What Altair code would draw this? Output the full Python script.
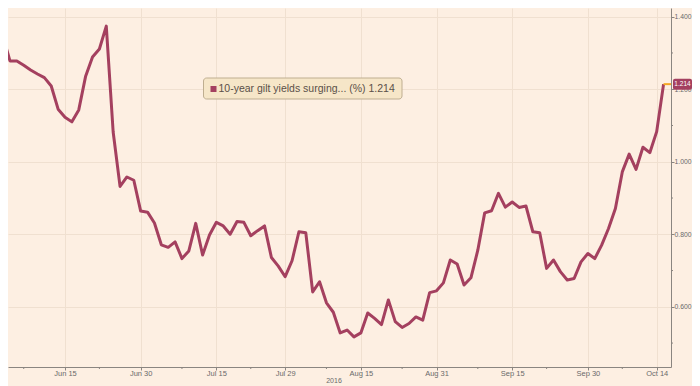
import altair as alt
import pandas as pd

# ---- data ----
values = [
    1.380, 1.345, 1.278, 1.278, 1.266, 1.253, 1.242, 1.232, 1.209, 1.145,
    1.123, 1.110, 1.143, 1.236, 1.289, 1.311, 1.374, 1.082, 0.932, 0.958,
    0.949, 0.864, 0.861, 0.831, 0.771, 0.764, 0.779, 0.733, 0.754, 0.830,
    0.743, 0.798, 0.833, 0.823, 0.800, 0.835, 0.833, 0.796, 0.810, 0.823,
    0.736, 0.712, 0.683, 0.727, 0.807, 0.804, 0.641, 0.669, 0.611, 0.585,
    0.528, 0.536, 0.517, 0.528, 0.583, 0.568, 0.551, 0.619, 0.559, 0.543,
    0.554, 0.572, 0.563, 0.639, 0.644, 0.666, 0.729, 0.718, 0.660, 0.680,
    0.756, 0.859, 0.865, 0.913, 0.875, 0.889, 0.874, 0.878, 0.807, 0.804,
    0.706, 0.729, 0.697, 0.674, 0.678, 0.724, 0.747, 0.733, 0.770, 0.816,
    0.871, 0.972, 1.021, 0.979, 1.040, 1.025, 1.083, 1.214,
]
first_day = -10  # trading-day index relative to Jun 15
days = list(range(first_day, first_day + len(values)))

major_ticks = [0, 11, 22, 32, 43, 54, 65, 76, 86]
major_labels = ["Jun 15", "Jun 30", "Jul 15", "Jul 29", "Aug 15",
                "Aug 31", "Sep 15", "Sep 30", "Oct 14"]
minor_ticks = [-6, 5, 17, 27, 38, 49, 60, 70, 81]
y_major = [0.6, 0.8, 1.0, 1.2, 1.4]
y_minor = [0.5, 0.7, 0.9, 1.1, 1.3]
series_name = "10-year gilt yields surging... (%)"
year_label = "2016"

# ---- style ----
BG = "#fdefe2"
LINE = "#a4405f"
AXIS = "#8a8580"
GRID = "#f0e0d0"
TXT = "#6a6a6a"
FONT = "Liberation Sans"

W, H = 663, 359
x_dom = [-8.285, 88.08]
y_dom = [0.434, 1.424]

df = pd.DataFrame({"day": days, "yield": values})
last_df = df.tail(1).assign(name=series_name)

xs = alt.Scale(domain=x_dom, nice=False, zero=False)
ys = alt.Scale(domain=y_dom, nice=False, zero=False)

label_expr = "''"
for t, l in reversed(list(zip(major_ticks, major_labels))):
    label_expr = f"datum.value == {t} ? '{l}' : ({label_expr})"

x_axis = alt.Axis(values=major_ticks, labelExpr=label_expr, title=None,
                  grid=True, gridColor=GRID, gridWidth=1,
                  domainColor=AXIS, tickColor=AXIS, tickSize=3,
                  labelFontSize=7.5, labelColor=TXT, labelFont=FONT,
                  labelPadding=-1, labelFlush=False)
y_axis = alt.Axis(orient="right", values=y_major, format=".3f", title=None,
                  grid=True, gridColor=GRID, gridWidth=1,
                  domainColor=AXIS, tickColor=AXIS, tickSize=3,
                  labelFontSize=6.8, labelColor=TXT, labelFont=FONT,
                  labelPadding=0, labelFlush=False)


def X(field):
    return alt.X(field, scale=xs, axis=x_axis)


def Y(field):
    return alt.Y(field, scale=ys, axis=y_axis)


line = alt.Chart(df).mark_line(color=LINE, strokeWidth=3, clip=True,
                               strokeJoin="round").encode(
    x=X("day:Q"), y=Y("yield:Q"),
)

last_rule = alt.Chart(last_df).mark_rule(color="#f5a623", strokeWidth=2).encode(
    x=X("day:Q"), x2=alt.value(W), y=Y("yield:Q"),
)

minor_x = alt.Chart(pd.DataFrame({"day": minor_ticks})).mark_rule(
    color=AXIS, strokeWidth=1).encode(
    x=X("day:Q"), y=alt.value(H), y2=alt.value(H + 2),
)

minor_y = alt.Chart(pd.DataFrame({"yield": y_minor})).mark_rule(
    color=AXIS, strokeWidth=1).encode(
    y=Y("yield:Q"), x=alt.value(W), x2=alt.value(W + 2),
)

legend_box = alt.Chart(last_df).mark_rect(
    fill="#f6e6c8", stroke="#bfae90", strokeWidth=1, cornerRadius=3).encode(
    x=alt.value(195.5), x2=alt.value(394), y=alt.value(70), y2=alt.value(91),
)
legend_sq = alt.Chart(last_df).mark_rect(fill=LINE).encode(
    x=alt.value(202.5), x2=alt.value(208.5), y=alt.value(78), y2=alt.value(84),
)
legend_txt = alt.Chart(last_df).transform_calculate(
    lbl="datum.name + ' ' + format(datum.yield, '.3f')"
).mark_text(align="left", baseline="middle", fontSize=10.5, font=FONT,
            color="#5a5048").encode(
    x=alt.value(210.5), y=alt.value(81), text="lbl:N",
)

val_box = alt.Chart(last_df).mark_rect(
    fill=LINE, cornerRadius=2, yOffset=-5.5, y2Offset=5.5, clip=False).encode(
    x=alt.value(W + 2), x2=alt.value(W + 21),
    y=Y("yield:Q"), y2="yield:Q",
)
val_txt = alt.Chart(last_df).mark_text(
    align="center", baseline="middle", fontSize=6.5, font=FONT,
    color="white").encode(
    x=alt.value(W + 11.5),
    y=Y("yield:Q"),
    text=alt.Text("yield:Q", format=".3f"),
)

year_txt = alt.Chart(pd.DataFrame({"y": [year_label]})).mark_text(
    align="center", baseline="middle", fontSize=7, font=FONT,
    color=TXT).encode(
    x=alt.value(326), y=alt.value(H + 14), text="y:N",
)

chart = alt.layer(
    line, last_rule, minor_x, minor_y, legend_box, legend_sq, legend_txt,
    val_box, val_txt, year_txt,
).properties(
    width=W, height=H,
    padding={"left": 0, "top": 0, "right": 21, "bottom": 19},
    autosize=alt.AutoSizeParams(type="none"),
    background=BG,
).configure_view(stroke=None)

chart.save("out.html", embed_options={"renderer": "svg", "actions": False})
